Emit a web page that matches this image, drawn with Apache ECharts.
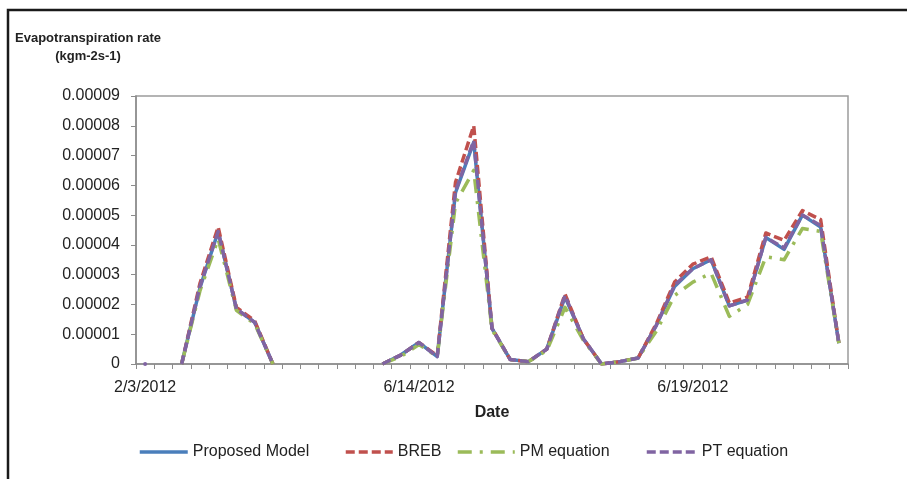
<!DOCTYPE html>
<html><head><meta charset="utf-8">
<script src="https://cdn.jsdelivr.net/npm/echarts@6/dist/echarts.min.js"></script>
<style>html,body{margin:0;padding:0;background:#fff}#c{width:907px;height:479px}</style>
</head><body><div id="c"></div>
<script>
// Categories (39 days); only three are labelled in the reference
const categories = ['2/3/2012','','','','','','','','','','','','','','',
  '6/14/2012','','','','','','','','','','','','','','',
  '6/19/2012','','','','','','','',''];
const yTickLabels = ['0','0.00001','0.00002','0.00003','0.00004','0.00005','0.00006','0.00007','0.00008','0.00009'];
const seriesNames = ['Proposed Model','BREB','PM equation','PT equation'];

const proposed = [0,null,0,0.0000255,0.0000445,0.0000185,0.000014,0,null,null,null,null,null,
  0,0.000003,0.0000072,0.0000025,0.0000575,0.0000745,0.000012,0.0000015,0.0000008,0.000005,0.0000225,0.0000085,
  0,0.0000008,0.000002,0.000013,0.000026,0.000032,0.000035,0.0000195,0.0000215,0.0000425,0.0000385,0.00005,0.000046,0.000007];
const breb = [0,null,0,0.000027,0.000046,0.000019,0.0000145,0,null,null,null,null,null,
  0,0.000003,0.0000072,0.0000028,0.000061,0.00008,0.000012,0.0000015,0.0000008,0.000005,0.0000235,0.0000085,
  0,0.0000008,0.000002,0.0000135,0.0000275,0.0000335,0.000036,0.0000205,0.0000225,0.000044,0.0000415,0.0000515,0.0000485,0.000007];
const pm = [0,null,0,0.0000245,0.000042,0.000018,0.0000135,0,null,null,null,null,null,
  0,0.0000025,0.0000065,0.0000025,0.000054,0.000065,0.0000115,0.0000015,0.0000008,0.0000045,0.000019,0.000008,
  0,0.0000008,0.000002,0.000011,0.000023,0.0000275,0.0000305,0.000016,0.00002,0.000036,0.000035,0.0000455,0.0000445,0.000007];
const pt = [0,null,0,0.000026,0.0000445,0.0000185,0.000014,0,null,null,null,null,null,
  0,0.000003,0.0000072,0.0000025,0.000058,0.000075,0.000012,0.0000015,0.0000008,0.000005,0.000023,0.0000085,
  0,0.0000008,0.000002,0.000013,0.0000265,0.000032,0.000035,0.0000195,0.0000215,0.0000425,0.000039,0.00005,0.0000465,0.000007];

const seriesData = [proposed, breb, pm, pt];
const colors = ['#4A7EBB','#C0504D','#9BBB59','#8064A2'];
const dashes = ['solid',[9,4],[14,8,3,8],[9,4]];
const legendLeft = [138,344,456,645];
const legendW = [48,47,57,50];

const chart = echarts.init(document.getElementById('c'), null, {renderer:'canvas'});
const FONT = 'Liberation Sans, Arial, sans-serif';

const series = seriesData.map((d, k) => ({
  name: seriesNames[k],
  type: 'line',
  data: d.map((v, i) => (k === 3 && i === 0) ? {value: v, symbol: 'circle', symbolSize: 4} : v),
  symbol: 'none',
  showSymbol: true,
  connectNulls: false,
  z: 2 + k,
  color: colors[k],
  itemStyle: {color: colors[k]},
  lineStyle: {color: colors[k], width: 3.5, type: dashes[k], cap: 'butt', join: 'round'},
  animation: false
}));

chart.setOption({
  animation: false,
  backgroundColor: '#fff',
  grid: {left: 136, right: 59, top: 96, bottom: 115, show: true, borderColor: '#9c9c9c', borderWidth: 1.5, backgroundColor: 'transparent'},
  xAxis: {
    type: 'category', data: categories, boundaryGap: true,
    name: 'Date', nameLocation: 'middle', nameGap: 41,
    nameTextStyle: {fontFamily: FONT, fontSize: 16, fontWeight: 'bold', color: '#222'},
    axisLine: {lineStyle: {color: '#8c8c8c', width: 1.5}},
    axisTick: {show: true, interval: 0, length: 5, inside: false, lineStyle: {color: '#8c8c8c'}},
    axisLabel: {interval: 0, margin: 16, fontFamily: FONT, fontSize: 16, color: '#222'},
    splitLine: {show: false}
  },
  yAxis: {
    type: 'value', min: 0, max: 0.00009, interval: 0.00001,
    axisLine: {show: true, lineStyle: {color: '#8c8c8c', width: 1.5}},
    axisTick: {show: true, length: 5, lineStyle: {color: '#8c8c8c'}},
    axisLabel: {margin: 16, fontFamily: FONT, fontSize: 16, color: '#222',
      formatter: (v, i) => yTickLabels[i]},
    splitLine: {show: false}
  },
  legend: seriesNames.map((n, k) => ({
    data: [n], left: legendLeft[k], top: 444, itemWidth: legendW[k], itemHeight: 14, padding: 0,
    itemStyle: {opacity: 0},
    lineStyle: {width: 3.5, opacity: 1},
    textStyle: {fontFamily: FONT, fontSize: 16, color: '#222'}, selectedMode: false
  })),
  graphic: [
    {type: 'polyline', shape: {points: [[8,479],[8,10],[907,10]]}, style: {stroke: '#1a1a1a', lineWidth: 2.5, fill: null}, z: 10},
    {type: 'text', x: 88, y: 32, style: {text: 'Evapotranspiration rate', textAlign: 'center', font: 'bold 13px ' + FONT, fill: '#222'}},
    {type: 'text', x: 88, y: 50, style: {text: '(kgm-2s-1)', textAlign: 'center', font: 'bold 13px ' + FONT, fill: '#222'}}
  ],
  series: series
});
</script>
</body></html>
